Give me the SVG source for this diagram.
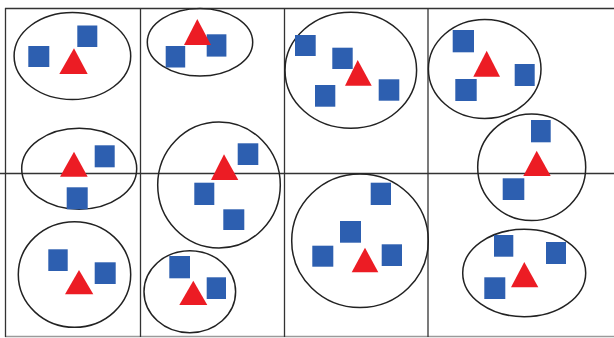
<svg xmlns="http://www.w3.org/2000/svg" width="614" height="338" viewBox="0 0 614 338">
<style>
.grid{stroke:#333;stroke-width:1.3;fill:none}
.gridb{stroke:#9a9a9a;stroke-width:1.5;fill:none}
.ell{fill:none;stroke:#222;stroke-width:1.5}
.sq{fill:#2d5fb0}
.tri{fill:#ec1c24}
</style>
<rect width="614" height="338" fill="#fff"/>
<g id="grid">
<line class="grid" x1="5" y1="8.5" x2="614" y2="8.5"/>
<line class="grid" x1="0" y1="173.5" x2="614" y2="173.5"/>
<line class="gridb" x1="5" y1="336.5" x2="614" y2="336.5"/>
<line class="grid" x1="5.5" y1="8" x2="5.5" y2="337"/>
<line class="grid" x1="140.5" y1="8" x2="140.5" y2="337"/>
<line class="grid" x1="284.5" y1="8" x2="284.5" y2="337"/>
<line class="grid" x1="428" y1="8" x2="428" y2="337"/>
</g>
<g id="cluster1">
<ellipse class="ell" cx="72.4" cy="56" rx="58.3" ry="43.5"/>
<rect class="sq" x="28.3" y="46" width="21" height="21"/>
<rect class="sq" x="77.3" y="25.5" width="20" height="21.5"/>
<polygon class="tri" points="74,48.3 59.3,74 87.7,74"/>
</g>
<g id="cluster2">
<ellipse class="ell" cx="200" cy="42.2" rx="52.7" ry="33.8"/>
<rect class="sq" x="165.7" y="46" width="19.5" height="21.5"/>
<rect class="sq" x="206.7" y="34.3" width="19.7" height="22.3"/>
<polygon class="tri" points="197.3,19 184,45 211,45"/>
</g>
<g id="cluster3">
<ellipse class="ell" cx="350.8" cy="70.3" rx="65.8" ry="58"/>
<rect class="sq" x="295" y="35" width="20.7" height="21"/>
<rect class="sq" x="332.3" y="47.7" width="20.4" height="21.3"/>
<rect class="sq" x="315" y="85" width="20.3" height="21.7"/>
<rect class="sq" x="378.7" y="79.3" width="20.6" height="21.4"/>
<polygon class="tri" points="357.7,60 345,85.7 371.7,85.7"/>
</g>
<g id="cluster4">
<ellipse class="ell" cx="484.7" cy="69" rx="56.3" ry="49.5"/>
<rect class="sq" x="452.7" y="30" width="21.3" height="22.3"/>
<rect class="sq" x="514.7" y="64" width="20" height="22"/>
<rect class="sq" x="455.3" y="79" width="21.4" height="22"/>
<polygon class="tri" points="486.7,50.7 473.3,76.7 500,76.7"/>
</g>
<g id="cluster5">
<ellipse class="ell" cx="79.2" cy="168.8" rx="57.5" ry="40.5"/>
<rect class="sq" x="94.7" y="145.3" width="20" height="22"/>
<rect class="sq" x="66.7" y="187.3" width="21" height="22"/>
<polygon class="tri" points="74,151.7 60,176.7 87.7,176.7"/>
</g>
<g id="cluster6">
<ellipse class="ell" cx="219" cy="185" rx="61.3" ry="63"/>
<rect class="sq" x="237.7" y="143.3" width="20.6" height="21.7"/>
<rect class="sq" x="194.3" y="182.7" width="20" height="22.3"/>
<rect class="sq" x="223.3" y="209.3" width="21" height="20.7"/>
<polygon class="tri" points="224,154.3 211,180 238.3,180"/>
</g>
<g id="cluster7">
<ellipse class="ell" cx="531.7" cy="167.3" rx="54" ry="53.3"/>
<rect class="sq" x="531" y="120" width="19.7" height="22.3"/>
<rect class="sq" x="502.7" y="178.3" width="21.6" height="21.7"/>
<polygon class="tri" points="536.7,150.7 523.3,176 550.7,176"/>
</g>
<g id="cluster8">
<ellipse class="ell" cx="74.5" cy="274.5" rx="56.2" ry="52.8"/>
<rect class="sq" x="48.3" y="249.3" width="19.4" height="21.7"/>
<rect class="sq" x="94.7" y="262.3" width="21" height="21.7"/>
<polygon class="tri" points="79,270 65,294.3 93.3,294.3"/>
</g>
<g id="cluster9">
<ellipse class="ell" cx="189.8" cy="291.7" rx="45.8" ry="41"/>
<rect class="sq" x="169.3" y="256" width="20.7" height="22.3"/>
<rect class="sq" x="206.7" y="277.3" width="19.3" height="21.7"/>
<polygon class="tri" points="193.3,280.7 179.3,305 207.3,305"/>
</g>
<g id="cluster10">
<ellipse class="ell" cx="360" cy="240.8" rx="68.3" ry="66.8"/>
<rect class="sq" x="370.7" y="182.7" width="20.3" height="22.3"/>
<rect class="sq" x="340" y="221" width="21" height="21.7"/>
<rect class="sq" x="312.3" y="245.7" width="21" height="21"/>
<rect class="sq" x="381.7" y="244.3" width="20.3" height="21.7"/>
<polygon class="tri" points="365,247.7 351.7,272.3 378.3,272.3"/>
</g>
<g id="cluster11">
<ellipse class="ell" cx="524.2" cy="273" rx="61.5" ry="43.7"/>
<rect class="sq" x="494" y="235" width="19.3" height="21.7"/>
<rect class="sq" x="546" y="242" width="20" height="22"/>
<rect class="sq" x="484.3" y="277.3" width="21" height="21.7"/>
<polygon class="tri" points="524.3,262 511,287.3 538.3,287.3"/>
</g>
</svg>
